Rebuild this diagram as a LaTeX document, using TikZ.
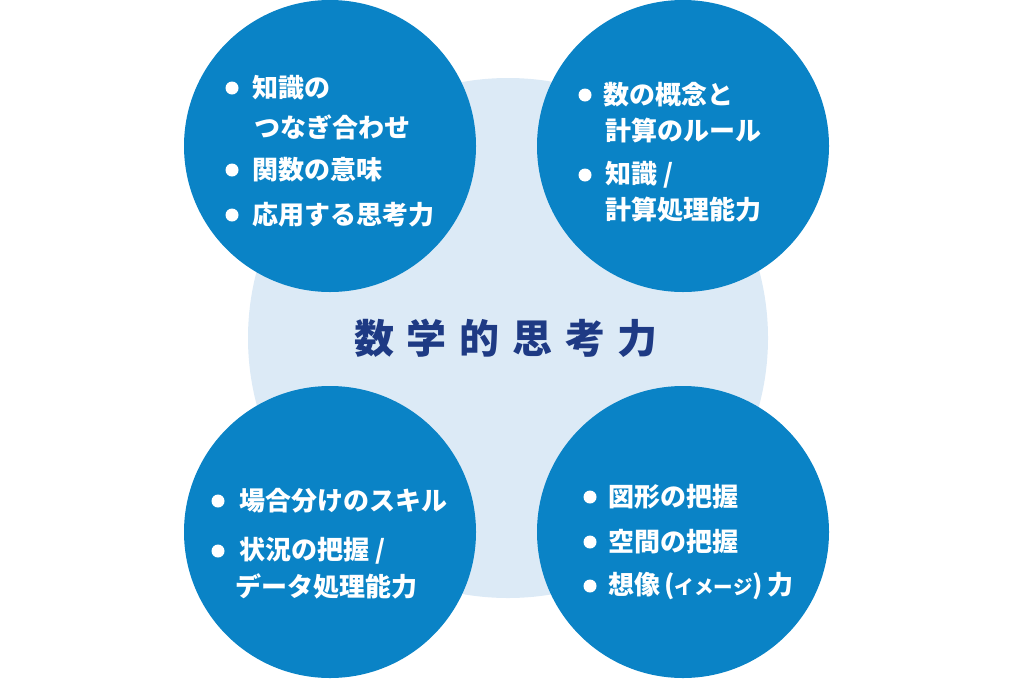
\documentclass[tikz,border=0pt]{standalone}
\usepackage{fontspec}
\newfontfamily\jp{Noto Sans CJK JP}
\definecolor{skill}{HTML}{0A83C6}
\definecolor{pale}{HTML}{DCEAF6}
\definecolor{navy}{HTML}{1E3A84}
\tikzset{
	ring/.style={circle,fill=skill,minimum size=292pt,inner sep=0pt},
	dot/.style={circle,fill=white,minimum size=13pt,inner sep=0pt},
	item/.style={anchor=west,text=white,inner sep=0pt,font=\jp\bfseries\fontsize{26}{30}\selectfont}
}
\begin{document}
\begin{tikzpicture}[x=1pt,y=-1pt]
		\useasboundingbox (0,0) rectangle (1016,678);
		\node[circle,fill=pale,minimum size=520pt,inner sep=0pt] (core) at (508,338) {};
		\node[text=navy,font=\jp\bfseries\fontsize{40}{40}\selectfont] (title) at (506,338)
			{数\hspace{12.7pt}学\hspace{12.7pt}的\hspace{12.7pt}思\hspace{12.7pt}考\hspace{12.7pt}力};
		\node[ring] (tl) at (330,146) {};
		\node[ring] (tr) at (683,146) {};
		\node[ring] (bl) at (330,532) {};
		\node[ring] (br) at (683,532) {};
		
		\path (232,88)node[dot](tl1){} (232,170)node[dot](tl2){} (232,215)node[dot](tl3){};
		\path (252,88)node[item]{知識の} (254,127)node[item]{つなぎ合わせ}
			(252,170)node[item]{関数の意味} (252,215)node[item]{応用する思考力};
		
		\path (585,95)node[dot](tr1){} (585,175)node[dot](tr2){};
		\path (603,95)node[item]{数の概念と} (605,130)node[item]{計算のルール}
			(605,175)node[item]{知識 /} (605,210)node[item]{計算処理能力};
		
		\path (218,501)node[dot](bl1){} (218,551)node[dot](bl2){};
		\path (239,501)node[item]{場合分けのスキル} (239,551)node[item]{状況の把握 /}
			(235,586)node[item]{データ処理能力};
		
		\path (590,497)node[dot](br1){} (590,542)node[dot](br2){} (590,586)node[dot](br3){};
		\path (608,497)node[item]{図形の把握} (608,542)node[item]{空間の把握}
			(608,586)node[item]{想像\,({\fontsize{19.5}{20}\selectfont イメージ})\,力};
		
	\end{tikzpicture}
\end{document}
